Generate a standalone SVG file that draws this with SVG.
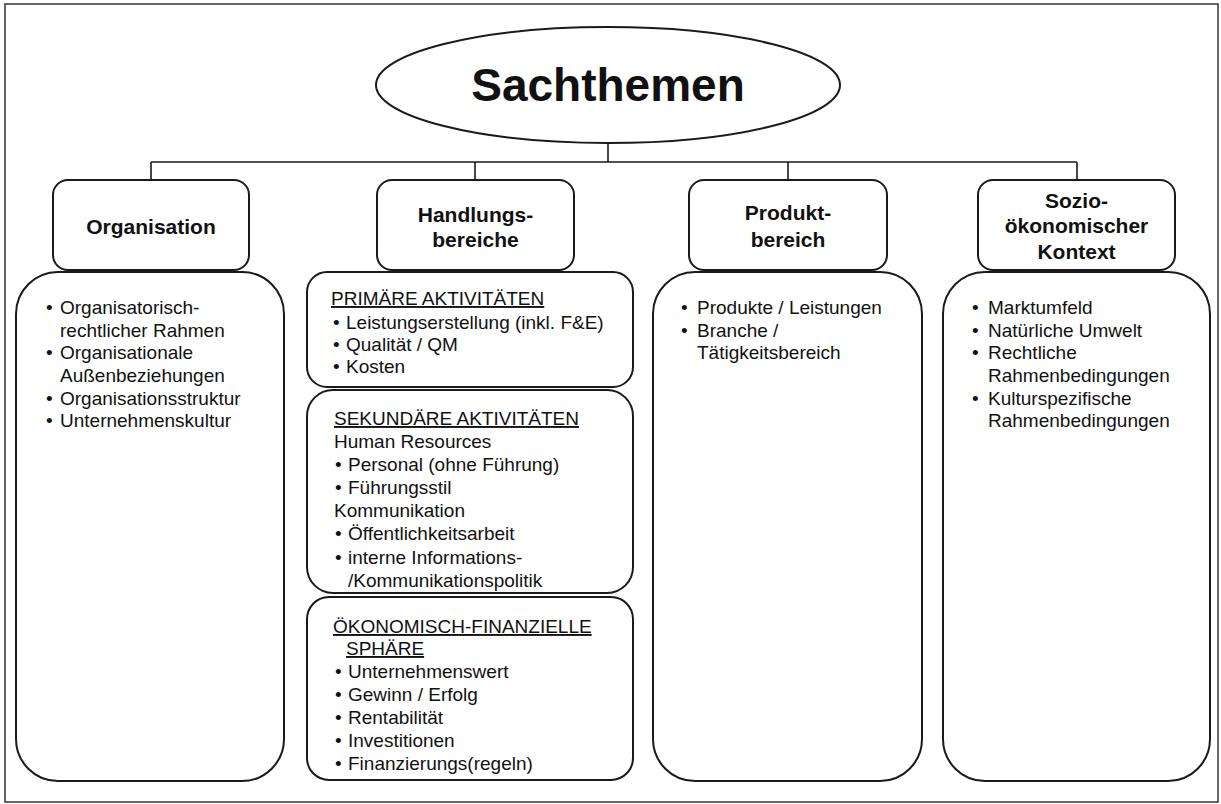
<svg xmlns="http://www.w3.org/2000/svg" width="1221" height="804" viewBox="0 0 1221 804">
<style>
  text { font-family: "Liberation Sans", Arial, sans-serif; fill: #111; }
  .title { font-size: 46px; font-weight: bold; }
  .hd { font-size: 21px; font-weight: bold; text-anchor: middle; }
  .tx { font-size: 19px; }
  .ul { text-decoration: underline; }
  .box { fill: #fff; stroke: #1a1a1a; stroke-width: 2; }
  .conn { fill: none; stroke: #1a1a1a; stroke-width: 1.6; }
  .frame { fill: none; stroke: #333; stroke-width: 1.5; }
</style>
<rect x="0" y="0" width="1221" height="804" fill="#fff"/>
<rect class="frame" x="5" y="4" width="1213" height="798"/>

<g id="connectors">
  <path class="conn" d="M608,143 V162 M151,162 H1077 M151,162 V180 M475,162 V180 M788,162 V180 M1077,162 V180"/>
</g>

<g id="sachthemen">
  <ellipse class="box" cx="608" cy="85" rx="232" ry="58"/>
  <text class="title" x="608" y="101" text-anchor="middle">Sachthemen</text>
</g>

<g id="organisation">
  <rect class="box" x="53" y="180" width="196" height="90" rx="15"/>
  <text class="hd" x="151" y="234">Organisation</text>
</g>
<g id="handlungsbereiche">
  <rect class="box" x="377" y="180" width="197" height="90" rx="15"/>
  <text class="hd" x="475.5" y="222">Handlungs-</text>
  <text class="hd" x="475.5" y="247">bereiche</text>
</g>
<g id="produktbereich">
  <rect class="box" x="689" y="180" width="198" height="90" rx="15"/>
  <text class="hd" x="788" y="220">Produkt-</text>
  <text class="hd" x="788" y="247">bereich</text>
</g>
<g id="soziooekonomisch">
  <rect class="box" x="978" y="180" width="197" height="90" rx="15"/>
  <text class="hd" x="1076.5" y="208">Sozio-</text>
  <text class="hd" x="1076.5" y="233">ökonomischer</text>
  <text class="hd" x="1076.5" y="259">Kontext</text>
</g>

<g id="organisation-inhalt">
  <rect class="box" x="16" y="272" width="268" height="509" rx="42"/>
  <text class="tx" x="46" y="314">•</text><text class="tx" x="60" y="314">Organisatorisch-</text>
  <text class="tx" x="60" y="337">rechtlicher Rahmen</text>
  <text class="tx" x="46" y="359">•</text><text class="tx" x="60" y="359">Organisationale</text>
  <text class="tx" x="60" y="382">Außenbeziehungen</text>
  <text class="tx" x="46" y="405">•</text><text class="tx" x="60" y="405">Organisationsstruktur</text>
  <text class="tx" x="46" y="427">•</text><text class="tx" x="60" y="427">Unternehmenskultur</text>
</g>

<g id="primaere-aktivitaeten">
  <rect class="box" x="307" y="272" width="326" height="115" rx="20"/>
  <text class="tx ul" x="331" y="305">PRIMÄRE AKTIVITÄTEN</text>
  <text class="tx" x="333" y="329">•</text><text class="tx" x="346" y="329">Leistungserstellung (inkl. F&amp;E)</text>
  <text class="tx" x="333" y="351">•</text><text class="tx" x="346" y="351">Qualität / QM</text>
  <text class="tx" x="333" y="373">•</text><text class="tx" x="346" y="373">Kosten</text>
</g>

<g id="sekundaere-aktivitaeten">
  <rect class="box" x="307" y="390" width="326" height="203" rx="26"/>
  <text class="tx ul" x="334" y="425">SEKUNDÄRE AKTIVITÄTEN</text>
  <text class="tx" x="334" y="448">Human Resources</text>
  <text class="tx" x="335" y="471">•</text><text class="tx" x="348" y="471">Personal (ohne Führung)</text>
  <text class="tx" x="335" y="494">•</text><text class="tx" x="348" y="494">Führungsstil</text>
  <text class="tx" x="334" y="517">Kommunikation</text>
  <text class="tx" x="335" y="540">•</text><text class="tx" x="348" y="540">Öffentlichkeitsarbeit</text>
  <text class="tx" x="335" y="564">•</text><text class="tx" x="348" y="564">interne Informations-</text>
  <text class="tx" x="348" y="587">/Kommunikationspolitik</text>
</g>

<g id="oekonomisch-finanzielle-sphaere">
  <rect class="box" x="307" y="597" width="326" height="183" rx="22"/>
  <text class="tx ul" x="333" y="633">ÖKONOMISCH-FINANZIELLE</text>
  <text class="tx ul" x="346" y="655">SPHÄRE</text>
  <text class="tx" x="335" y="678">•</text><text class="tx" x="348" y="678">Unternehmenswert</text>
  <text class="tx" x="335" y="701">•</text><text class="tx" x="348" y="701">Gewinn / Erfolg</text>
  <text class="tx" x="335" y="724">•</text><text class="tx" x="348" y="724">Rentabilität</text>
  <text class="tx" x="335" y="747">•</text><text class="tx" x="348" y="747">Investitionen</text>
  <text class="tx" x="335" y="770">•</text><text class="tx" x="348" y="770">Finanzierungs(regeln)</text>
</g>

<g id="produktbereich-inhalt">
  <rect class="box" x="653" y="272" width="269" height="509" rx="42"/>
  <text class="tx" x="681" y="314">•</text><text class="tx" x="697" y="314">Produkte / Leistungen</text>
  <text class="tx" x="681" y="337">•</text><text class="tx" x="697" y="337">Branche /</text>
  <text class="tx" x="697" y="359">Tätigkeitsbereich</text>
</g>

<g id="sozio-inhalt">
  <rect class="box" x="943" y="272" width="267" height="509" rx="42"/>
  <text class="tx" x="972" y="314">•</text><text class="tx" x="988" y="314">Marktumfeld</text>
  <text class="tx" x="972" y="337">•</text><text class="tx" x="988" y="337">Natürliche Umwelt</text>
  <text class="tx" x="972" y="359">•</text><text class="tx" x="988" y="359">Rechtliche</text>
  <text class="tx" x="988" y="382">Rahmenbedingungen</text>
  <text class="tx" x="972" y="405">•</text><text class="tx" x="988" y="405">Kulturspezifische</text>
  <text class="tx" x="988" y="427">Rahmenbedingungen</text>
</g>
</svg>
